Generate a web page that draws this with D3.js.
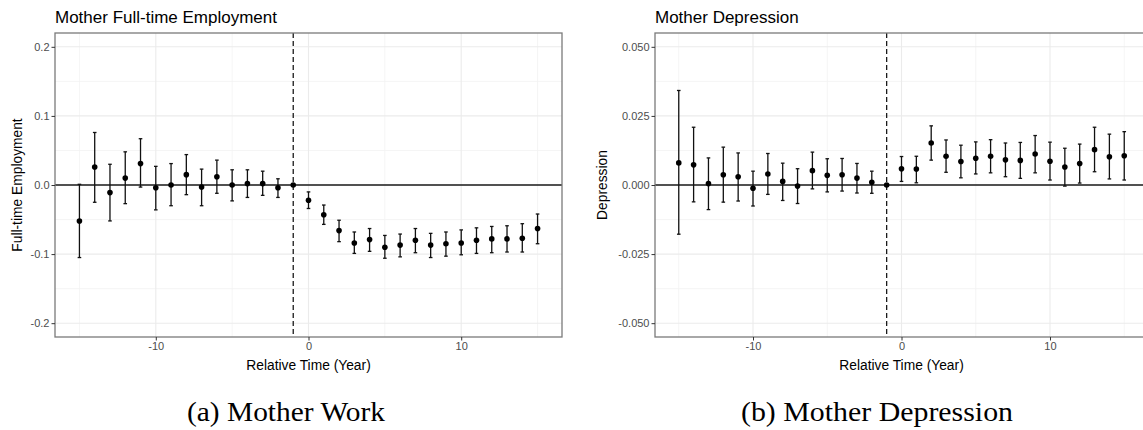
<!DOCTYPE html>
<html>
<head>
<meta charset="utf-8">
<script src="https://cdn.jsdelivr.net/npm/d3@7"></script>
<style>
  body { margin: 0; background: #fff; }
  text { font-family: "Liberation Sans", Arial, sans-serif; }
  .caption { font-family: "Liberation Serif", "Times New Roman", serif; }
</style>
</head>
<body>
<script>
// event-study estimates, relative year -15..15 (year -1 is the reference)
var relTime = [-15,-14,-13,-12,-11,-10,-9,-8,-7,-6,-5,-4,-3,-2,-1,0,1,2,3,4,5,6,7,8,9,10,11,12,13,14,15];

var workEst = [-0.052, 0.026, -0.011, 0.010, 0.031, -0.004, 0.000, 0.015, -0.003, 0.012, 0.000, 0.002, 0.002, -0.004, 0,
  -0.022, -0.043, -0.066, -0.084, -0.079, -0.090, -0.087, -0.080, -0.087, -0.085, -0.084, -0.080, -0.078, -0.078, -0.077, -0.063];
var workLo = [-0.105, -0.025, -0.052, -0.027, -0.003, -0.036, -0.030, -0.014, -0.030, -0.012, -0.023, -0.018, -0.015, -0.018, null,
  -0.034, -0.057, -0.082, -0.099, -0.096, -0.106, -0.104, -0.098, -0.105, -0.103, -0.101, -0.099, -0.098, -0.097, -0.097, -0.085];
var workHi = [0.001, 0.076, 0.030, 0.048, 0.067, 0.027, 0.031, 0.044, 0.023, 0.036, 0.022, 0.022, 0.020, 0.009, null,
  -0.010, -0.029, -0.051, -0.068, -0.063, -0.073, -0.071, -0.063, -0.070, -0.068, -0.065, -0.062, -0.060, -0.059, -0.056, -0.042];

var depEst = [0.0080, 0.0073, 0.0005, 0.0037, 0.0030, -0.0012, 0.0040, 0.0013, -0.0004, 0.0052, 0.0035, 0.0037, 0.0025, 0.0010, 0,
  0.0059, 0.0058, 0.0152, 0.0104, 0.0085, 0.0097, 0.0104, 0.0091, 0.0089, 0.0112, 0.0086, 0.0065, 0.0078, 0.0128, 0.0102, 0.0106];
var depLo = [-0.0178, -0.0061, -0.0089, -0.0062, -0.0058, -0.0076, -0.0034, -0.0056, -0.0067, -0.0014, -0.0025, -0.0022, -0.0029, -0.0030, null,
  0.0013, 0.0008, 0.0090, 0.0046, 0.0026, 0.0040, 0.0044, 0.0030, 0.0024, 0.0044, 0.0018, -0.0004, 0.0007, 0.0048, 0.0022, 0.0018];
var depHi = [0.0342, 0.0209, 0.0098, 0.0137, 0.0116, 0.0050, 0.0114, 0.0079, 0.0059, 0.0119, 0.0095, 0.0096, 0.0078, 0.0050, null,
  0.0103, 0.0104, 0.0214, 0.0163, 0.0144, 0.0156, 0.0164, 0.0152, 0.0154, 0.0179, 0.0155, 0.0133, 0.0148, 0.0209, 0.0184, 0.0193];

var xTicks = [-10, 0, 10];
var xMinor = [-15, -5, 5, 15];
var workTicks = [-0.2, -0.1, 0.0, 0.1, 0.2];
var workMinor = [-0.15, -0.05, 0.05, 0.15];
var depTicks = [-0.05, -0.025, 0.0, 0.025, 0.05];
var depMinor = [-0.0375, -0.0125, 0.0125, 0.0375];

var width = 1143, height = 430;

var svg = d3.select("body")
  .append("svg")
  .attr("width", width)
  .attr("height", height);

// one ggplot-like panel
function drawPanel(p) {
  var x = d3.scaleLinear().domain([-16.6, 16.6]).range([p.left, p.right]);
  var y = d3.scaleLinear().domain(p.ydom).range([337, 33]);

  var g = svg.append("g");

  // grid
  g.selectAll(".minx").data(xMinor).enter().append("line")
    .attr("x1", function(d) { return x(d); }).attr("x2", function(d) { return x(d); })
    .attr("y1", 33).attr("y2", 337)
    .style("stroke", "#f2f2f2").style("stroke-width", 0.8);
  g.selectAll(".miny").data(p.minor).enter().append("line")
    .attr("x1", p.left).attr("x2", p.right)
    .attr("y1", function(d) { return y(d); }).attr("y2", function(d) { return y(d); })
    .style("stroke", "#f2f2f2").style("stroke-width", 0.8);
  g.selectAll(".majx").data(xTicks).enter().append("line")
    .attr("x1", function(d) { return x(d); }).attr("x2", function(d) { return x(d); })
    .attr("y1", 33).attr("y2", 337)
    .style("stroke", "#ebebeb").style("stroke-width", 1.1);
  g.selectAll(".majy").data(p.ticks).enter().append("line")
    .attr("x1", p.left).attr("x2", p.right)
    .attr("y1", function(d) { return y(d); }).attr("y2", function(d) { return y(d); })
    .style("stroke", "#ebebeb").style("stroke-width", 1.1);

  // reference lines
  g.append("line")
    .attr("x1", p.left).attr("x2", p.right)
    .attr("y1", y(0)).attr("y2", y(0))
    .style("stroke", "#1a1a1a").style("stroke-width", 1.4);
  g.append("line")
    .attr("x1", x(-1)).attr("x2", x(-1))
    .attr("y1", 33).attr("y2", 337)
    .style("stroke", "#1a1a1a").style("stroke-width", 1.3)
    .style("stroke-dasharray", "5,3");

  var pts = relTime.map(function(t, i) {
    return { t: t, est: p.est[i], lo: p.lo[i], hi: p.hi[i] };
  });
  var bars = pts.filter(function(d) { return d.lo !== null; });

  // error bars
  var eb = g.selectAll(".eb").data(bars).enter().append("g")
    .style("stroke", "#111").style("stroke-width", 1.3);
  eb.append("line")
    .attr("x1", function(d) { return x(d.t); }).attr("x2", function(d) { return x(d.t); })
    .attr("y1", function(d) { return y(d.lo); }).attr("y2", function(d) { return y(d.hi); });
  eb.append("line")
    .attr("x1", function(d) { return x(d.t) - 1.8; }).attr("x2", function(d) { return x(d.t) + 1.8; })
    .attr("y1", function(d) { return y(d.lo); }).attr("y2", function(d) { return y(d.lo); });
  eb.append("line")
    .attr("x1", function(d) { return x(d.t) - 1.8; }).attr("x2", function(d) { return x(d.t) + 1.8; })
    .attr("y1", function(d) { return y(d.hi); }).attr("y2", function(d) { return y(d.hi); });

  g.selectAll(".pt").data(pts).enter().append("circle")
    .attr("cx", function(d) { return x(d.t); })
    .attr("cy", function(d) { return y(d.est); })
    .attr("r", 2.8)
    .style("fill", "#000");

  // border
  g.append("rect")
    .attr("x", p.left).attr("y", 33)
    .attr("width", p.right - p.left).attr("height", 304)
    .style("fill", "none").style("stroke", "#7a7a7a").style("stroke-width", 1.3);

  // axes
  var yAxis = g.append("g")
    .attr("transform", "translate(" + p.left + ",0)")
    .call(d3.axisLeft(y).tickValues(p.ticks).tickSize(3.5).tickPadding(2)
      .tickFormat(function(d) { return p.fmt(d); }));
  var xAxis = g.append("g")
    .attr("transform", "translate(0,337)")
    .call(d3.axisBottom(x).tickValues(xTicks).tickSize(3.5).tickPadding(2)
      .tickFormat(d3.format("d")));
  [xAxis, yAxis].forEach(function(a) {
    a.select(".domain").remove();
    a.selectAll(".tick line").style("stroke", "#333").style("stroke-width", 1);
    a.selectAll(".tick text")
      .style("fill", "#4d4d4d")
      .style("font-size", "11px")
      .style("font-family", "Liberation Sans, Arial, sans-serif");
  });
  xAxis.selectAll(".tick text").text(function(d) { return d < 0 ? "-" + Math.abs(d) : d; });

  // titles
  g.append("text")
    .attr("x", p.left).attr("y", 23)
    .style("font-size", "17px")
    .text(p.title);
  g.append("text")
    .attr("x", (p.left + p.right) / 2).attr("y", 370)
    .attr("text-anchor", "middle")
    .style("font-size", "13.8px")
    .text("Relative Time (Year)");
  g.append("text")
    .attr("transform", "translate(" + p.ylabX + ",185) rotate(-90)")
    .attr("text-anchor", "middle")
    .style("font-size", "13.8px")
    .text(p.ylab);
}

drawPanel({
  left: 55, right: 562, ydom: [-0.22, 0.22],
  est: workEst, lo: workLo, hi: workHi,
  ticks: workTicks, minor: workMinor,
  fmt: function(d) { return (d < 0 ? "-" : "") + Math.abs(d).toFixed(1); },
  title: "Mother Full-time Employment", ylab: "Full-time Employment", ylabX: 22
});

drawPanel({
  left: 655, right: 1148, ydom: [-0.055, 0.055],
  est: depEst, lo: depLo, hi: depHi,
  ticks: depTicks, minor: depMinor,
  fmt: function(d) { return (d < 0 ? "-" : "") + Math.abs(d).toFixed(3); },
  title: "Mother Depression", ylab: "Depression", ylabX: 607
});

// sub-figure captions
svg.append("text").attr("class", "caption")
  .attr("x", 286).attr("y", 421)
  .attr("text-anchor", "middle")
  .attr("textLength", 198).attr("lengthAdjust", "spacingAndGlyphs")
  .style("font-size", "27px")
  .text("(a) Mother Work");
svg.append("text").attr("class", "caption")
  .attr("x", 877).attr("y", 421)
  .attr("text-anchor", "middle")
  .attr("textLength", 272).attr("lengthAdjust", "spacingAndGlyphs")
  .style("font-size", "27px")
  .text("(b) Mother Depression");
</script>
</body>
</html>
